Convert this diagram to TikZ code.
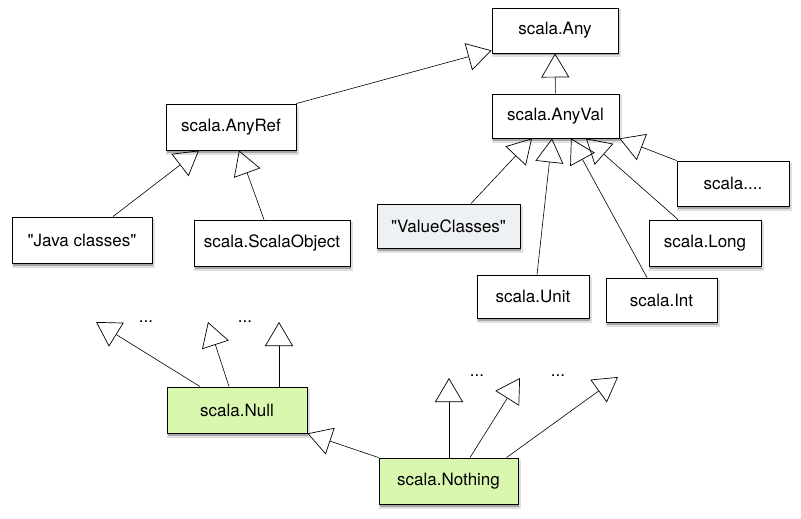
\documentclass[tikz,border=0pt]{standalone}
\usepackage{fontspec}
\setmainfont{TeX Gyre Heros}
\usetikzlibrary{arrows.meta}
\definecolor{bottomgreen}{HTML}{DAF7B0}
\definecolor{valuegray}{HTML}{EEF1F4}

\begin{document}
\begin{tikzpicture}[x=1pt, y=-1pt,
    cls/.style={draw, line width=0.9pt, fill=white, minimum width=112pt, minimum height=45pt,
        inner sep=0pt, font=\fontsize{17}{20}\selectfont,
        preaction={draw=black!12, line width=3pt, fill=black!12, transform canvas={xshift=1pt, yshift=-3pt}},
        preaction={fill=black!35, transform canvas={xshift=1pt, yshift=-2.5pt}}},
    inherit/.style={line width=0.6pt, -{Triangle[open, length=24pt, width=28pt, line width=0.7pt]}},
    more/.style={font=\fontsize{17}{20}\selectfont, inner sep=0pt}]
    \useasboundingbox (0,0) rectangle (801,519);

    % Top of the hierarchy
    \node[cls, minimum width=126pt] (any) at (555,30.5) {scala.Any};
    \node[cls, minimum width=127pt, minimum height=44pt] (anyval) at (555.5,116) {scala.AnyVal};
    \node[cls, minimum width=130pt, minimum height=46pt] (anyref) at (231,127) {scala.AnyRef};

    % Reference classes
    \node[cls, minimum width=140pt, minimum height=46pt] (java) at (82,240) {\textquotedbl Java classes\textquotedbl};
    \node[cls, minimum width=156pt, minimum height=46pt] (scalaobj) at (272,243) {scala.ScalaObject};

    % Value classes
    \node[cls, fill=valuegray, minimum width=143pt, minimum height=44pt] (valuecls) at (448.5,226) {\textquotedbl ValueClasses\textquotedbl};
    \node[cls] (others) at (733,183.5) {scala....};
    \node[cls, minimum height=46pt] (long) at (705,243) {scala.Long};
    \node[cls, minimum height=43pt] (unit) at (533,296.5) {scala.Unit};
    \node[cls, minimum width=111pt, minimum height=44pt] (int) at (661.5,300) {scala.Int};

    % Bottom types
    \node[cls, fill=bottomgreen, minimum width=140pt, minimum height=46pt] (null) at (237,410) {scala.Null};
    \node[cls, fill=bottomgreen, minimum width=139pt, minimum height=46pt] (nothing) at (448.5,481) {scala.Nothing};

    % Free ends of the bottom arrows
    \coordinate (nullA) at (96,322);
    \coordinate (nullB) at (208,322);
    \coordinate (nullC) at (279,322);
    \coordinate (nothingA) at (449,378);
    \coordinate (nothingB) at (520,378);
    \coordinate (nothingC) at (618,377);

    % Add ellipses
    \node[more] (moreA) at (146,322) {...};
    \node[more] (moreB) at (245,322) {...};
    \node[more] (moreC) at (477,376) {...};
    \node[more] (moreD) at (558,376) {...};

    % Draw inheritance arrows
    \draw[inherit] (anyref.north east) -- ([yshift=3pt]any.south west);
    \draw[inherit] (anyval) -- (any);
    \draw[inherit] ([xshift=31pt]java.north) -- ([xshift=-32pt]anyref.south);
    \draw[inherit] ([xshift=-8pt]scalaobj.north) -- ([xshift=8pt]anyref.south);
    \draw[inherit] ([xshift=22.5pt]valuecls.north) -- ([xshift=-23.5pt]anyval.south);
    \draw[inherit] ([xshift=4pt]unit.north) -- ([xshift=-3.5pt]anyval.south);
    \draw[inherit] ([xshift=-14.5pt]int.north) -- ([xshift=15.5pt]anyval.south);
    \draw[inherit] ([xshift=-27pt]long.north) -- ([xshift=30.5pt]anyval.south);
    \draw[inherit] (others.north west) -- (anyval.south east);
    \draw[inherit] ([xshift=-37pt]null.north) -- (nullA);
    \draw[inherit] ([xshift=-8pt]null.north) -- (nullB);
    \draw[inherit] ([xshift=42pt]null.north) -- (nullC);
    \draw[inherit] (nothing.north west) -- (null.south east);
    \draw[inherit] ([xshift=0.5pt]nothing.north) -- (nothingA);
    \draw[inherit] ([xshift=21.5pt]nothing.north) -- (nothingB);
    \draw[inherit] ([xshift=58pt]nothing.north) -- (nothingC);
\end{tikzpicture}
\end{document}
